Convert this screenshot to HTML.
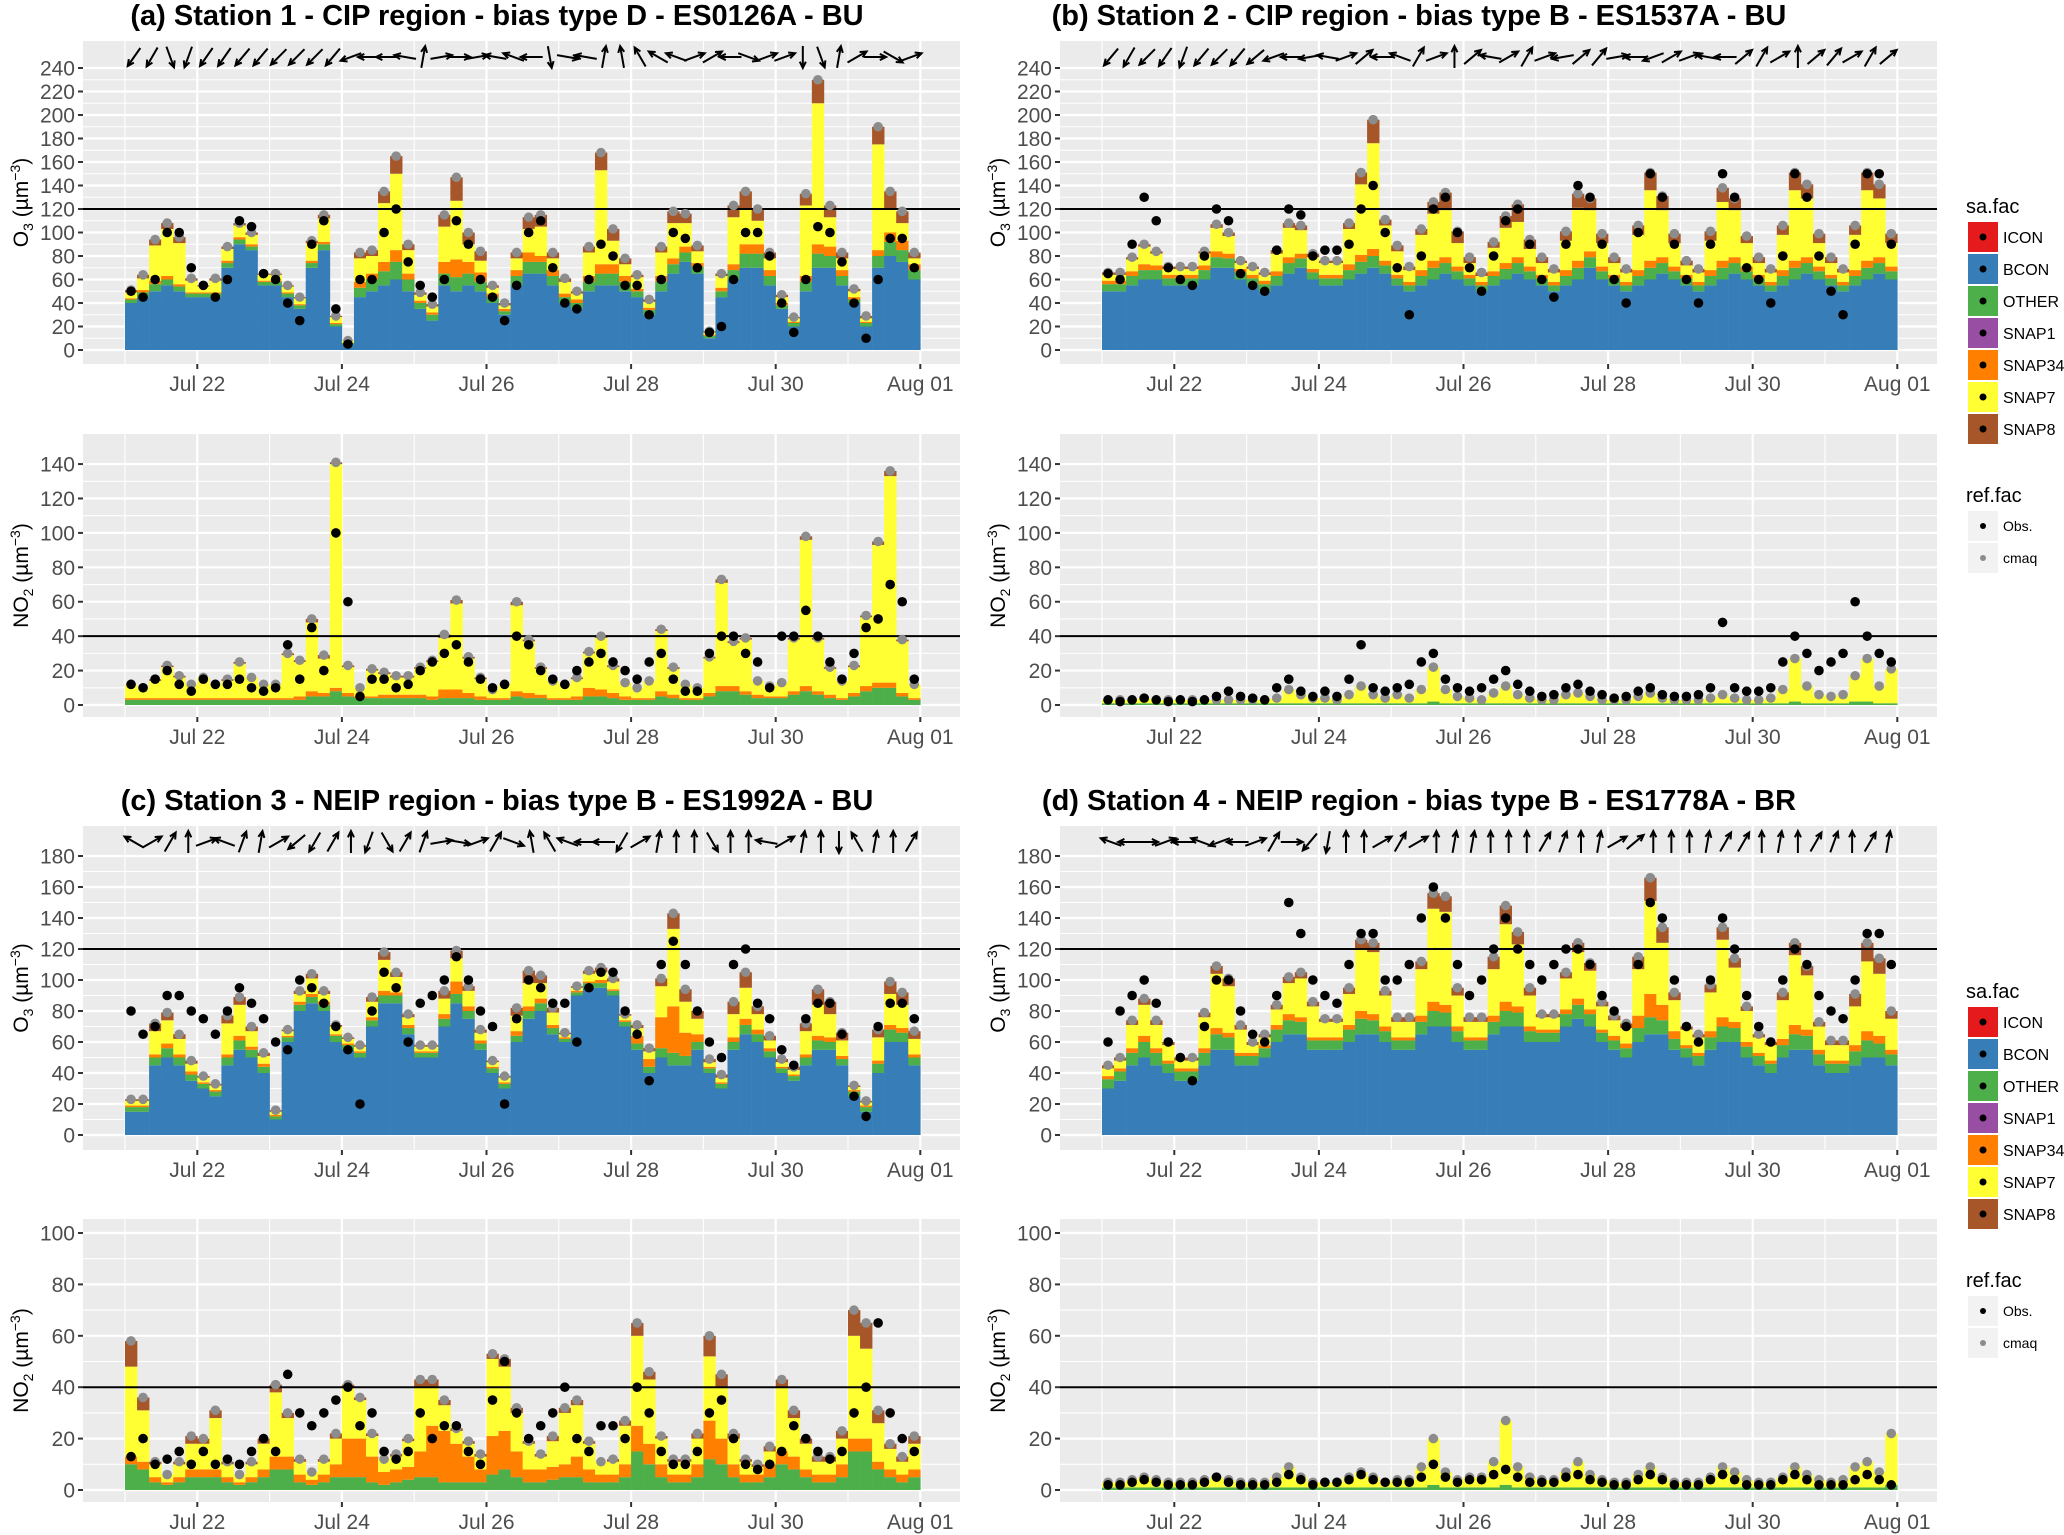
<!DOCTYPE html>
<html><head><meta charset="utf-8"><style>
html,body{margin:0;padding:0;background:#fff}
svg{display:block;font-family:"Liberation Sans",Arial,sans-serif}
</style></head><body>
<svg id="fig" width="2064" height="1535" viewBox="0 0 2064 1535" xmlns="http://www.w3.org/2000/svg"></svg>
<script>
// ---- data (4-hourly, starting Jul 21 00:00) ----
const dayLabels = ["Jul 22","Jul 24","Jul 26","Jul 28","Jul 30","Aug 01"];
const o3TicksTop = [0,20,40,60,80,100,120,140,160,180,200,220,240];
const no2TicksTop = [0,20,40,60,80,100,120,140];
const o3TicksBot = [0,20,40,60,80,100,120,140,160,180];
const no2TicksBot = [0,20,40,60,80,100];
const seriesNames = ["ICON","BCON","OTHER","SNAP1","SNAP34","SNAP7","SNAP8"];
const seriesColors = ["#E41A1C","#377EB8","#4DAF4A","#984EA3","#FF7F00","#FFFF33","#A65628"];

const aO3_bcon=[40,45,50,55,50,45,45,45,70,90,85,55,55,45,35,70,85,20,5,45,50,55,60,50,35,25,55,50,55,50,40,30,55,65,65,55,40,35,50,55,55,50,45,30,50,65,75,65,10,45,60,70,70,55,35,20,50,70,70,55,40,20,70,80,75,60];
const aO3_oth=[3,4,6,5,4,3,3,3,4,4,3,3,3,3,3,4,5,2,1,8,10,12,15,10,5,5,10,12,10,8,5,3,8,10,10,8,5,5,8,10,10,8,5,4,8,8,8,6,2,5,8,12,12,8,3,3,8,12,10,8,3,3,10,12,10,8];
const aO3_s34=[1,2,3,3,2,1,1,1,2,2,2,1,1,1,1,2,2,1,0,5,5,8,10,5,2,2,10,15,10,8,3,2,5,8,5,5,3,3,5,8,8,5,2,2,5,5,5,3,1,3,5,8,8,5,2,1,5,8,8,5,2,1,5,8,8,5];
const aO3_s7=[5,10,30,40,35,10,5,10,10,10,8,5,5,5,5,15,20,5,2,20,15,50,65,20,5,5,30,50,15,10,5,3,10,20,25,10,10,5,20,80,20,10,10,5,20,30,20,10,2,10,40,30,20,10,5,3,60,120,25,10,5,3,90,20,15,5];
const aO3_s8=[2,3,5,5,5,2,1,2,2,2,2,1,1,1,1,2,3,1,0,5,5,10,15,5,2,2,10,20,10,8,2,2,5,10,10,5,3,2,5,15,10,5,2,2,5,10,8,5,1,2,10,15,10,5,2,1,10,20,10,5,2,2,15,15,10,5];
const aO3_obs=[50,45,60,100,100,70,55,45,60,110,105,65,60,40,25,90,110,35,5,60,60,100,120,75,55,45,60,110,90,60,45,25,55,100,110,70,40,35,60,90,80,55,55,30,60,100,95,70,15,20,60,100,100,80,40,15,60,105,100,75,40,10,60,95,95,70];

const aNO2_oth=[3,3,3,3,3,3,3,3,3,3,3,3,3,3,3,5,5,8,5,4,4,4,4,4,4,3,4,4,4,3,3,3,5,4,4,3,3,3,5,5,4,3,3,3,5,4,3,3,5,8,8,6,4,4,4,6,8,6,4,3,5,8,10,10,5,3];
const aNO2_s34=[1,1,1,1,1,1,1,1,1,1,1,1,1,1,2,3,2,2,2,1,1,2,2,2,2,2,5,5,3,2,1,1,3,3,2,1,1,2,5,4,3,2,1,1,3,2,1,1,2,3,3,2,2,1,1,2,3,2,2,1,2,3,3,3,2,1];
const aNO2_s7=[8,6,10,18,12,8,12,8,10,20,12,8,8,25,20,40,20,130,15,5,15,12,10,10,15,20,30,50,20,10,5,8,50,30,15,10,8,10,20,30,15,8,6,10,35,15,8,6,20,60,25,30,8,6,8,30,85,30,15,10,15,40,80,120,30,8];
const aNO2_s8=[0,0,1,1,1,0,0,0,1,1,0,0,0,1,1,2,2,1,1,0,1,1,1,1,1,1,2,2,1,1,0,0,2,1,1,0,0,1,1,1,1,0,0,0,1,1,0,0,1,2,1,1,0,0,0,1,2,1,1,0,1,1,2,3,1,0];
const aNO2_obs=[12,10,15,20,12,8,15,12,12,15,10,8,10,35,15,45,20,100,60,5,15,15,10,12,20,25,30,35,25,15,10,12,40,35,20,15,12,20,25,30,25,20,15,25,30,15,8,8,30,40,40,30,25,10,40,40,55,40,25,15,30,45,50,70,60,15];

const bO3_bcon=[50,50,55,60,60,55,55,55,60,70,70,60,55,50,55,65,70,60,55,55,60,65,70,65,55,50,55,60,65,60,55,50,55,60,65,60,55,50,55,60,70,60,55,50,55,60,65,60,55,50,55,60,65,60,55,50,55,60,65,60,55,50,55,60,65,60];
const bO3_oth=[6,6,8,8,8,6,6,6,8,9,8,6,6,6,8,9,8,6,6,6,8,10,10,7,6,5,8,10,9,7,6,5,8,9,9,7,6,5,8,10,9,7,6,5,8,10,9,7,6,5,8,10,9,7,6,5,8,10,9,7,6,5,8,10,9,7];
const bO3_s34=[3,3,4,5,4,3,3,3,4,5,4,3,3,3,4,5,4,3,3,3,5,6,6,4,3,3,5,6,5,4,3,3,4,5,5,4,3,3,5,6,5,4,3,3,5,6,5,4,3,3,5,6,5,4,3,3,5,6,5,4,3,3,5,6,5,4];
const bO3_s7=[5,5,10,15,10,5,5,5,10,20,15,5,5,5,15,25,20,10,10,10,30,60,90,30,20,10,30,40,40,20,10,5,20,30,30,15,10,8,25,45,35,20,10,8,30,60,40,20,8,8,25,50,40,20,10,8,30,60,50,20,10,8,30,60,50,20];
const bO3_s8=[2,2,2,2,2,2,2,2,2,3,3,2,2,2,3,4,4,3,2,2,5,10,20,5,5,3,5,10,15,10,5,3,5,10,15,8,5,3,8,12,10,8,5,3,8,15,12,8,4,3,8,12,10,6,5,3,8,15,12,8,5,3,8,15,12,8];
const bO3_obs=[65,60,90,130,110,70,60,55,80,120,110,65,55,50,85,120,115,80,85,85,90,120,140,100,70,30,80,120,130,100,70,50,80,110,120,90,60,45,90,140,130,90,60,40,100,150,130,90,60,40,90,150,130,70,60,40,80,150,130,80,50,30,90,150,150,90];

const bNO2_oth=[1,1,1,1,1,1,1,1,1,1,1,1,1,1,1,1,1,1,1,1,1,1,1,1,1,1,1,2,1,1,1,1,1,1,1,1,1,1,1,1,1,1,1,1,1,1,1,1,1,1,1,1,1,1,1,1,1,2,1,1,1,1,2,2,1,1];
const bNO2_s7=[2,2,2,3,2,2,2,2,2,2,2,2,2,2,3,8,5,3,3,2,5,10,5,3,5,3,8,20,8,4,3,2,6,10,5,3,2,2,5,6,4,2,2,2,4,6,3,2,2,2,3,5,3,2,2,3,8,25,10,5,4,5,15,25,10,20];
const bNO2_obs=[3,2,3,4,3,2,3,2,3,5,8,5,4,3,10,15,8,5,8,5,15,35,10,8,10,12,25,30,15,10,8,10,15,20,12,8,5,6,10,12,8,6,4,5,8,10,6,5,5,6,10,48,10,8,8,10,25,40,30,20,25,30,60,40,30,25];

const cO3_bcon=[15,15,45,50,45,35,30,25,45,55,50,40,10,60,80,85,80,60,55,50,70,85,85,65,50,50,70,85,75,55,40,30,60,75,80,65,60,90,95,95,90,70,55,40,50,45,45,55,40,30,55,65,60,50,40,35,45,55,55,45,25,15,40,60,60,45];
const cO3_oth=[3,3,5,6,5,4,3,3,5,6,5,4,2,3,4,4,4,4,3,3,4,5,5,4,3,3,5,6,5,4,3,3,4,5,5,4,2,2,3,3,3,3,4,4,6,8,6,5,3,3,5,6,5,4,3,3,5,6,5,4,3,3,6,8,6,5];
const cO3_s34=[1,1,2,3,2,2,1,1,2,3,2,2,1,1,2,2,2,1,1,1,2,3,2,2,1,1,3,8,3,2,1,1,3,3,3,2,1,1,1,2,1,1,5,5,20,30,15,5,1,1,3,4,3,2,1,1,2,3,3,2,1,1,2,3,3,2];
const cO3_s7=[3,3,15,15,10,5,3,3,20,20,10,5,2,3,5,10,5,5,3,3,10,20,10,5,3,3,10,15,10,5,3,3,10,15,10,8,2,2,5,5,5,3,5,5,20,50,20,10,3,3,15,20,10,5,3,3,15,20,15,10,2,2,15,20,15,10];
const cO3_s8=[1,1,5,5,3,2,1,1,5,5,3,2,1,1,2,3,2,1,1,1,3,5,3,2,1,1,5,5,3,2,1,1,5,8,5,3,1,1,2,3,2,1,2,2,5,10,8,5,2,2,8,10,5,3,2,2,5,10,8,5,1,1,5,8,8,5];
const cO3_obs=[80,65,70,90,90,80,75,65,80,95,85,75,60,55,100,95,85,70,55,20,80,105,95,60,85,90,100,115,100,80,70,20,75,100,95,85,85,60,95,105,105,80,65,35,110,125,110,80,60,50,110,120,85,75,55,45,75,85,85,65,25,12,70,85,85,75];

const cNO2_oth=[10,8,3,2,3,5,5,5,3,2,3,5,8,8,3,2,3,5,5,5,3,2,3,4,5,5,3,3,3,3,6,8,5,3,3,4,5,5,3,3,3,5,15,10,5,3,3,5,12,10,5,3,3,5,10,8,5,3,3,5,15,15,8,5,3,5];
const cNO2_s34=[3,3,2,1,2,3,3,3,2,1,2,3,5,5,3,2,3,5,15,15,10,5,5,5,10,20,20,15,10,5,15,15,10,5,5,5,5,8,5,3,3,5,10,8,5,3,3,5,15,10,5,3,3,5,5,5,3,3,3,5,5,5,3,3,3,3];
const cNO2_s7=[35,20,5,3,5,10,10,20,5,3,5,10,25,15,5,3,5,10,20,15,8,5,5,10,25,15,10,5,5,5,30,25,15,10,5,10,20,20,10,5,5,15,35,25,10,5,5,10,25,20,10,5,3,5,25,15,10,5,5,10,40,35,15,8,5,10];
const cNO2_s8=[10,5,1,0,1,3,2,3,1,0,1,2,3,2,1,0,1,2,1,1,1,0,1,1,3,3,2,1,1,1,2,3,2,1,1,2,2,2,1,0,1,2,5,3,1,1,1,2,8,5,2,1,1,2,3,3,2,2,2,3,10,10,5,2,2,3];
const cNO2_obs=[13,20,10,12,15,10,15,10,12,10,15,20,15,45,30,25,30,35,40,25,30,15,12,15,30,20,25,25,15,10,35,50,30,20,25,30,40,20,15,25,25,20,40,30,15,10,10,15,30,35,20,10,8,10,15,25,20,15,12,15,30,40,65,30,20,15];

const dO3_bcon=[30,35,45,50,45,40,35,35,45,55,55,45,45,50,60,65,65,55,55,55,60,65,65,60,55,55,65,70,70,60,55,55,65,70,70,60,60,60,70,75,70,60,55,50,60,65,65,55,50,45,55,60,60,50,45,40,50,55,55,45,40,40,45,50,50,45];
const dO3_oth=[6,6,8,10,8,6,6,6,8,10,8,6,6,6,8,9,8,6,6,6,8,10,9,7,6,6,8,10,9,7,6,6,8,10,9,7,6,6,8,9,8,6,6,6,9,11,9,7,6,6,8,10,9,7,6,6,8,10,9,7,6,6,9,11,9,7];
const dO3_s34=[2,2,3,4,3,2,2,2,3,4,3,2,2,2,3,4,3,2,2,2,3,5,4,3,2,2,4,6,5,3,2,2,4,6,4,3,2,2,3,4,3,2,3,3,8,15,10,5,2,2,4,6,4,3,2,2,4,6,4,3,2,2,4,6,5,3];
const dO3_s7=[5,5,15,20,15,10,5,5,20,35,30,15,5,5,10,20,25,20,10,10,20,40,40,20,10,10,30,60,60,20,10,10,30,50,40,20,8,8,20,30,25,15,10,10,30,60,40,20,10,10,25,50,35,20,10,10,25,45,35,15,10,10,25,45,40,20];
const dO3_s8=[2,2,3,4,3,2,2,2,3,5,5,3,2,2,3,4,4,3,2,2,4,6,6,3,3,3,5,10,10,5,3,3,8,12,8,5,2,2,4,6,5,3,3,3,8,15,10,5,2,2,5,8,6,3,2,2,5,8,6,3,3,3,8,12,10,5];
const dO3_obs=[60,80,90,100,85,60,50,35,70,100,100,80,65,60,90,150,130,100,90,85,110,130,130,100,100,110,140,160,140,110,90,100,120,140,120,110,100,110,120,120,110,90,80,70,110,150,140,100,70,60,100,140,120,90,70,60,100,120,110,90,80,75,100,130,130,110];

const dNO2_oth=[1,1,1,1,1,1,1,1,1,1,1,1,1,1,1,1,1,1,1,1,1,1,1,1,1,1,1,2,1,1,1,1,1,2,1,1,1,1,1,1,1,1,1,1,1,1,1,1,1,1,1,1,1,1,1,1,1,1,1,1,1,1,1,1,1,2];
const dNO2_s7=[2,2,3,4,3,2,2,2,3,4,3,2,2,2,4,8,4,2,2,2,4,6,4,2,3,3,8,18,6,3,4,4,10,25,8,4,3,3,6,10,5,3,2,2,5,8,4,2,2,2,4,8,6,3,2,2,4,8,5,3,2,3,8,10,6,20];
const dNO2_obs=[2,2,3,4,3,2,2,2,3,5,3,2,2,2,3,6,4,2,3,3,4,6,4,3,3,3,5,10,5,3,4,4,6,8,5,3,3,3,5,6,4,3,2,2,4,6,4,2,2,2,4,6,4,2,2,2,4,6,4,2,2,2,4,6,4,2];

const windA=[235,240,290,250,235,235,230,230,225,225,225,230,200,180,180,170,80,10,0,10,170,160,180,280,350,170,80,100,120,150,160,20,30,180,340,20,20,270,290,80,30,0,330,20];
const windB=[230,240,225,235,250,230,225,230,220,200,180,190,170,20,40,180,160,60,20,90,40,170,30,60,20,190,40,50,10,180,200,30,20,170,180,40,60,30,90,40,50,30,60,40];
const windC=[150,30,60,90,20,160,70,80,30,220,240,60,90,250,300,60,70,10,350,20,60,340,100,120,160,180,180,240,30,80,90,90,300,90,90,170,30,80,90,270,120,80,90,60];
const windD=[160,180,0,20,180,160,200,180,20,60,0,230,260,90,90,30,60,30,90,80,80,90,90,90,60,70,90,80,30,40,90,90,90,80,60,60,90,80,90,60,70,90,60,80];

const panels=[
 {id:"a-o3",sp:"O",title:"(a)  Station 1 - CIP region - bias type D - ES0126A - BU",tx:497,dx:0,yTop:41,yBot:364,y0:350,ppu:1.175,ticks:o3TicksTop,thr:120,wind:windA,
  s:{BCON:aO3_bcon,OTHER:aO3_oth,SNAP34:aO3_s34,SNAP7:aO3_s7,SNAP8:aO3_s8},obs:aO3_obs},
 {id:"a-no2",sp:"NO",dx:0,yTop:434,yBot:717,y0:705,ppu:1.721,ticks:no2TicksTop,thr:40,
  s:{OTHER:aNO2_oth,SNAP34:aNO2_s34,SNAP7:aNO2_s7,SNAP8:aNO2_s8},obs:aNO2_obs},
 {id:"b-o3",sp:"O",title:"(b)  Station 2 - CIP region - bias type B - ES1537A - BU",tx:1419,dx:977,yTop:41,yBot:364,y0:350,ppu:1.175,ticks:o3TicksTop,thr:120,wind:windB,
  s:{BCON:bO3_bcon,OTHER:bO3_oth,SNAP34:bO3_s34,SNAP7:bO3_s7,SNAP8:bO3_s8},obs:bO3_obs},
 {id:"b-no2",sp:"NO",dx:977,yTop:434,yBot:717,y0:705,ppu:1.721,ticks:no2TicksTop,thr:40,
  s:{OTHER:bNO2_oth,SNAP7:bNO2_s7},obs:bNO2_obs},
 {id:"c-o3",sp:"O",title:"(c)  Station 3 - NEIP region - bias type B - ES1992A - BU",tx:497,dx:0,yTop:826,yBot:1150,y0:1135,ppu:1.55,ticks:o3TicksBot,thr:120,wind:windC,
  s:{BCON:cO3_bcon,OTHER:cO3_oth,SNAP34:cO3_s34,SNAP7:cO3_s7,SNAP8:cO3_s8},obs:cO3_obs},
 {id:"c-no2",sp:"NO",dx:0,yTop:1219,yBot:1502,y0:1490,ppu:2.57,ticks:no2TicksBot,thr:40,
  s:{OTHER:cNO2_oth,SNAP34:cNO2_s34,SNAP7:cNO2_s7,SNAP8:cNO2_s8},obs:cNO2_obs},
 {id:"d-o3",sp:"O",title:"(d)  Station 4 - NEIP region - bias type B - ES1778A - BR",tx:1419,dx:977,yTop:826,yBot:1150,y0:1135,ppu:1.55,ticks:o3TicksBot,thr:120,wind:windD,
  s:{BCON:dO3_bcon,OTHER:dO3_oth,SNAP34:dO3_s34,SNAP7:dO3_s7,SNAP8:dO3_s8},obs:dO3_obs},
 {id:"d-no2",sp:"NO",dx:977,yTop:1219,yBot:1502,y0:1490,ppu:2.57,ticks:no2TicksBot,thr:40,
  s:{OTHER:dNO2_oth,SNAP7:dNO2_s7},obs:dNO2_obs}
];

const NS="http://www.w3.org/2000/svg";
const svg=document.getElementById("fig");
function mk(tag,attrs,parent){const e=document.createElementNS(NS,tag);for(const k in attrs)e.setAttribute(k,attrs[k]);(parent||svg).appendChild(e);return e;}
const stackOrder=["BCON","OTHER","SNAP1","SNAP34","SNAP7","SNAP8","ICON"];
const colorOf={};seriesNames.forEach((n,i)=>colorOf[n]=seriesColors[i]);
const STEP=4, PXDAY=72.3;

panels.forEach(p=>{
  const g=mk("g",{});
  
  
  const xL=83+p.dx, xR=960+p.dx, xs=t=>125+p.dx+t/24*PXDAY, ys=v=>p.y0-v*p.ppu;
  mk("rect",{x:xL,y:p.yTop,width:xR-xL,height:p.yBot-p.yTop,fill:"#EBEBEB"},g);
  for(let i=0;i<p.ticks.length-1;i++){const v=(p.ticks[i]+p.ticks[i+1])/2;mk("line",{x1:xL,x2:xR,y1:ys(v),y2:ys(v),stroke:"#fff","stroke-width":1.1},g);}
  for(let d=0;d<=11;d+=2){mk("line",{x1:xs(d*24),x2:xs(d*24),y1:p.yTop,y2:p.yBot,stroke:"#fff","stroke-width":1.1},g);}
  p.ticks.forEach(v=>{mk("line",{x1:xL,x2:xR,y1:ys(v),y2:ys(v),stroke:"#fff","stroke-width":2.2},g);
    mk("line",{x1:xL-5,x2:xL,y1:ys(v),y2:ys(v),stroke:"#333","stroke-width":2},g);
    const t=mk("text",{x:xL-8,y:ys(v)+7.5,"text-anchor":"end","font-size":21,fill:"#4D4D4D"},g);t.textContent=v;
    });
  dayLabels.forEach((lab,i)=>{const x=xs((1+2*i)*24);
    mk("line",{x1:x,x2:x,y1:p.yTop,y2:p.yBot,stroke:"#fff","stroke-width":2.2},g);
    mk("line",{x1:x,x2:x,y1:p.yBot,y2:p.yBot+5,stroke:"#333","stroke-width":2},g);
    const t=mk("text",{x:x,y:p.yBot+27,"text-anchor":"middle","font-size":21,fill:"#4D4D4D"},g);t.textContent=lab;
    });
  const n=p.obs.length, bw=STEP/24*PXDAY;
  const totals=[];
  for(let i=0;i<n;i++){let acc=0;const t=i*STEP;
    stackOrder.forEach(name=>{const arr=p.s[name];if(!arr)return;const v=arr[i];if(!v)return;
      const r=mk("rect",{x:xs(t),y:ys(acc+v),width:bw+0.3,height:v*p.ppu,fill:colorOf[name]},g);
      
      
      acc+=v;});
    totals.push(acc);}
  const th=mk("line",{x1:xL,x2:xR,y1:ys(p.thr),y2:ys(p.thr),stroke:"#000","stroke-width":2},g);
  
  for(let i=0;i<n;i++){const x=xs(i*STEP+bw*12/PXDAY);
    const c1=mk("circle",{cx:x,cy:ys(totals[i]),r:4.8,fill:"#8C8C8C"},g);
    
    const c2=mk("circle",{cx:x,cy:ys(p.obs[i]),r:4.8,fill:"#000"},g);
    }
  if(p.wind){const yc=p.yTop+16;p.wind.forEach((a,i)=>{const cx=xs(i*6+3),rad=a*Math.PI/180,L=11;
      const x1=cx-L*Math.cos(rad),y1=yc+L*Math.sin(rad),x2=cx+L*Math.cos(rad),y2=yc-L*Math.sin(rad);
      const h1=rad+Math.PI-0.45,h2=rad+Math.PI+0.45;
      const ar=mk("path",{d:`M${x1},${y1}L${x2},${y2}M${x2+7*Math.cos(h1)},${y2-7*Math.sin(h1)}L${x2},${y2}L${x2+7*Math.cos(h2)},${y2-7*Math.sin(h2)}`,stroke:"#000","stroke-width":2,fill:"none"},g);
      });}
  const yt=mk("text",{transform:`translate(${p.dx+28},${(p.yTop+p.yBot)/2}) rotate(-90)`,"text-anchor":"middle","font-size":21,fill:"#000"},g);
  
  yt.innerHTML=`${p.sp}<tspan font-size="14" dy="5">${p.sp==="O"?"3":"2"}</tspan><tspan dy="-5"> (µm</tspan><tspan font-size="14" dy="-8">−3</tspan><tspan dy="8">)</tspan>`;
  if(p.title){const tt=mk("text",{x:p.tx,y:p.yTop-16,"text-anchor":"middle","font-size":29,"font-weight":"bold",fill:"#000"},g);tt.textContent=p.title;
    }
});

[0,785].forEach(off=>{
  const g=mk("g",{});
  
  
  const t=mk("text",{x:1966,y:213+off,"font-size":20,fill:"#000"},g);t.textContent="sa.fac";
  seriesNames.forEach((nm,i)=>{const y=222+off+i*32;
    const r=mk("rect",{x:1968,y:y,width:30,height:30,fill:seriesColors[i]},g);
    
    mk("circle",{cx:1983,cy:y+15,r:3.5,fill:"#000"},g);
    const l=mk("text",{x:2003,y:y+21,"font-size":16,fill:"#000"},g);l.textContent=nm;
    });
  const t2=mk("text",{x:1966,y:502+off,"font-size":20,fill:"#000"},g);t2.textContent="ref.fac";
  [["Obs.","#000"],["cmaq","#8C8C8C"]].forEach((e,i)=>{const y=511+off+i*32;
    mk("rect",{x:1968,y:y,width:30,height:30,fill:"#F2F2F2"},g);
    mk("circle",{cx:1983,cy:y+15,r:3,fill:e[1]},g);
    const l=mk("text",{x:2003,y:y+20,"font-size":14,fill:"#000"},g);l.textContent=e[0];
    });
});
</script>
</body></html>
